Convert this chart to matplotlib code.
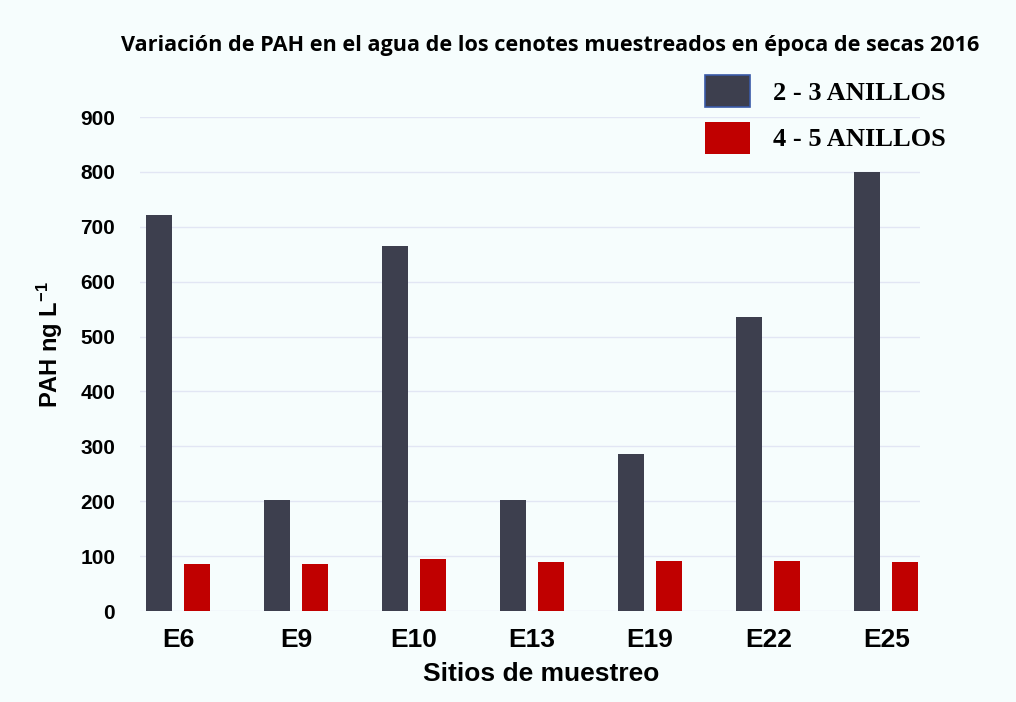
import matplotlib
matplotlib.use('Agg')
import matplotlib.pyplot as plt
import numpy as np

sites = ['E6', 'E9', 'E10', 'E13', 'E19', 'E22', 'E25']
rings_2_3 = [721, 202, 665, 202, 286, 536, 800]
rings_4_5 = [86, 86, 95, 89, 91, 91, 89]
series_labels = ['2 - 3 ANILLOS', '4 - 5 ANILLOS']
y_ticks = [0, 100, 200, 300, 400, 500, 600, 700, 800, 900]

bg = '#f6fdfd'
dark = '#3d3f4e'
red = '#c00000'

plt.rcParams['mathtext.default'] = 'regular'

fig = plt.figure(figsize=(10.16, 7.02), dpi=100, facecolor=bg)
ax = fig.add_axes([0.138, 0.1296, 0.768, 0.7037], facecolor=bg)

x = np.arange(len(sites))
w = 0.22
ax.bar(x - 0.16, rings_2_3, w, color=dark, linewidth=0, zorder=3)
ax.bar(x + 0.16, rings_4_5, w, color=red, linewidth=0, zorder=3)

ax.set_xlim(-0.32, 6.29)
ax.set_ylim(0, 900)
ax.set_yticks(y_ticks)
ax.yaxis.grid(True, color='#e2e6f4', linewidth=1, zorder=0)
ax.set_axisbelow(True)
for s in ax.spines.values():
    s.set_visible(False)
ax.tick_params(length=0)
ax.tick_params(axis='y', pad=18)
ax.tick_params(axis='x', pad=12)

ax.set_xticks(x)
ax.set_xticklabels(sites, fontsize=19, fontweight='bold', family='Liberation Sans')
for t in ax.get_yticklabels():
    t.set_fontsize(15)
    t.set_fontweight('bold')
    t.set_family('Liberation Sans')

ax.set_xlabel('Sitios de muestreo', fontsize=19, fontweight='bold', family='Liberation Sans')
ax.xaxis.set_label_coords(0.514, -0.103)
ax.set_ylabel('PAH ng L$^{-1}$', fontsize=17, fontweight='bold', family='Liberation Sans')
ax.yaxis.set_label_coords(-0.097, 0.54)

fig.text(0.541, 0.935, 'Variación de PAH en el agua de los cenotes muestreados en época de secas 2016',
         ha='center', va='center', fontsize=15.6, fontweight='bold', family='Open Sans')

handles = [plt.Rectangle((0, 0), 1, 1, facecolor=dark, edgecolor='#3a5aa8', linewidth=1.2),
           plt.Rectangle((0, 0), 1, 1, facecolor=red, linewidth=0)]
fig.legend(handles, series_labels, loc='upper left', bbox_to_anchor=(0.681, 0.912),
           frameon=False, borderpad=0, handlelength=1.7, handleheight=1.5,
           labelspacing=0.55, handletextpad=0.87,
           prop={'family': 'Liberation Serif', 'weight': 'bold', 'size': 19})

fig.savefig('out.png', dpi=100, facecolor=bg)
